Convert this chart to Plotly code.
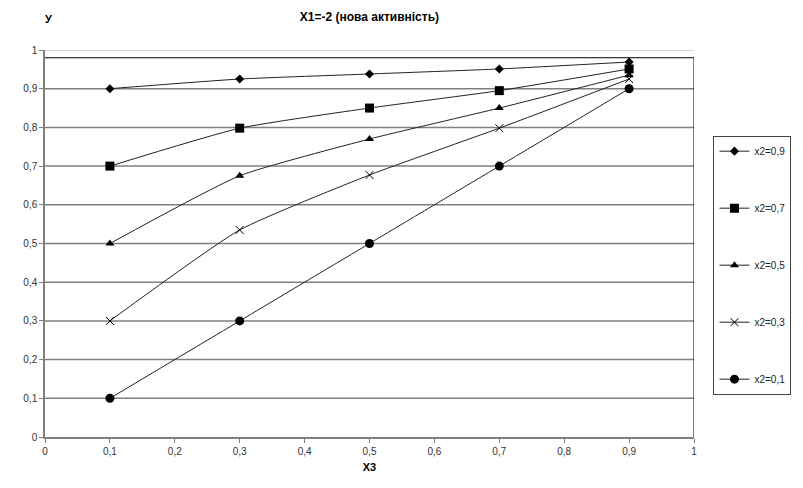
import plotly.graph_objects as go

x3 = [0.1, 0.3, 0.5, 0.7, 0.9]
series_names = ["x2=0,9", "x2=0,7", "x2=0,5", "x2=0,3", "x2=0,1"]
y_09 = [0.90, 0.925, 0.938, 0.951, 0.969]
y_07 = [0.70, 0.798, 0.850, 0.895, 0.951]
y_05 = [0.50, 0.675, 0.770, 0.850, 0.935]
y_03 = [0.30, 0.535, 0.677, 0.798, 0.925]
y_01 = [0.10, 0.30, 0.50, 0.70, 0.90]
series_values = [y_09, y_07, y_05, y_03, y_01]

x_ticks = [0, 0.1, 0.2, 0.3, 0.4, 0.5, 0.6, 0.7, 0.8, 0.9, 1]
x_tick_labels = ["0", "0,1", "0,2", "0,3", "0,4", "0,5", "0,6", "0,7", "0,8", "0,9", "1"]
y_ticks = [0, 0.1, 0.2, 0.3, 0.4, 0.5, 0.6, 0.7, 0.8, 0.9, 1]
y_tick_labels = ["0", "0,1", "0,2", "0,3", "0,4", "0,5", "0,6", "0,7", "0,8", "0,9", "1"]

markers = [
    dict(symbol="diamond", size=7),
    dict(symbol="square", size=9),
    dict(symbol="triangle-up", size=8),
    dict(symbol="x-thin-open", size=8, line=dict(width=1, color="#222")),
    dict(symbol="circle", size=9),
]

fig = go.Figure()
for i, (name, ys, mk) in enumerate(zip(series_names, series_values, markers)):
    mk = dict(mk)
    mk.setdefault("color", "black")
    fig.add_trace(go.Scatter(
        x=x3, y=ys, name=name, mode="lines+markers",
        line=dict(color="#222", width=1, shape="spline", smoothing=0.5),
        marker=mk, legendgroup=str(i),
    ))

# horizontal gridlines (the one at 1 is lighter)
for v in y_ticks[1:]:
    fig.add_shape(type="line", xref="x", yref="y", x0=0, x1=1, y0=v, y1=v,
                  line=dict(color="#c8c8c8" if v == 1 else "#7f7f7f", width=1.5),
                  layer="below")
# plot-area frame: top edge and right edge
fig.add_shape(type="line", xref="x", yref="y", x0=0, x1=1, y0=0.98, y1=0.98,
              line=dict(color="black", width=1), layer="below")
fig.add_shape(type="line", xref="x", yref="y", x0=1, x1=1, y0=0, y1=0.98,
              line=dict(color="black", width=1), layer="below")

font_axis = dict(family="Liberation Sans, Arial, sans-serif", size=10, color="#333")

fig.update_layout(
    width=803, height=488,
    margin=dict(l=45, r=106, t=50, b=51),
    paper_bgcolor="white", plot_bgcolor="white",
    title=dict(text="<b>X1=-2 (нова активність)</b>", x=0.46, xanchor="center",
               y=0.965, yanchor="middle",
               font=dict(family="Liberation Sans, Arial, sans-serif", size=12, color="black")),
    xaxis=dict(range=[0, 1], tickvals=x_ticks, ticktext=x_tick_labels,
               showgrid=False, zeroline=False, showline=True, linecolor="#7f7f7f", linewidth=1.5,
               ticks="outside", ticklen=4, tickcolor="#7f7f7f", tickfont=font_axis,
               title=dict(text="<b>Х3</b>", standoff=8,
                          font=dict(family="Liberation Sans, Arial, sans-serif", size=11, color="black"))),
    yaxis=dict(range=[0, 1], tickvals=y_ticks, ticktext=y_tick_labels,
               showgrid=False, zeroline=False, showline=True, linecolor="#7f7f7f", linewidth=1.5,
               ticks="outside", ticklen=4, tickcolor="#7f7f7f", tickfont=font_axis),
    legend=dict(x=1.03, xanchor="left", y=0.444, yanchor="middle",
                bordercolor="#444", borderwidth=1, bgcolor="white",
                font=dict(family="Liberation Sans, Arial, sans-serif", size=10, color="#222"),
                tracegroupgap=38, itemwidth=30),
    showlegend=True,
)
fig.add_annotation(text="<b>У</b>", xref="paper", yref="paper", x=0.005, y=1.08,
                   xanchor="center", yanchor="middle", showarrow=False,
                   font=dict(family="Liberation Sans, Arial, sans-serif", size=11, color="black"))

fig.write_html("out.html")
